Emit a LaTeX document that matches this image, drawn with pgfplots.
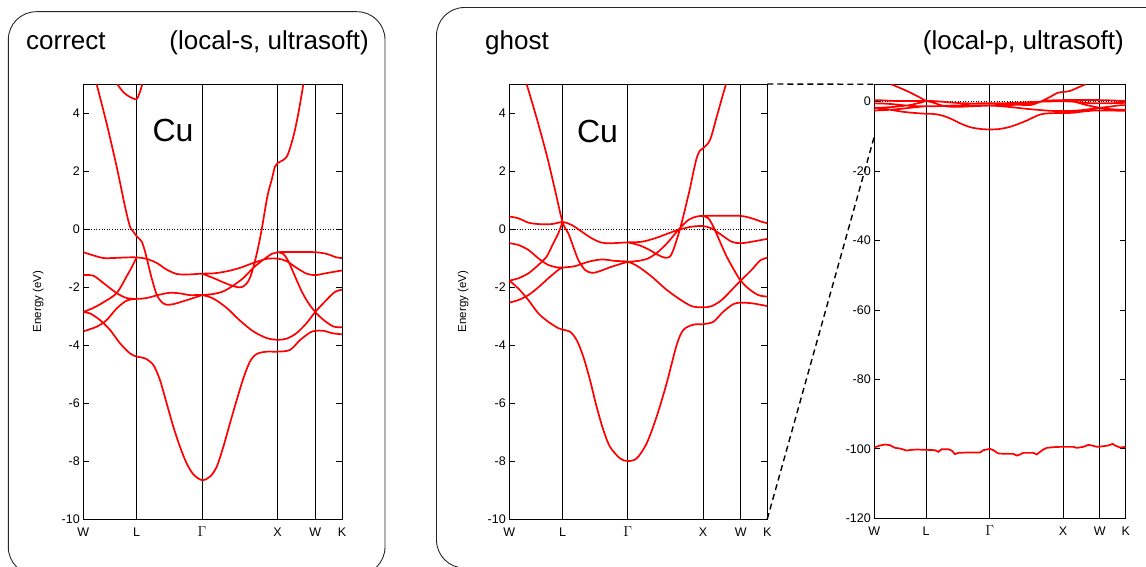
\documentclass[border=0pt]{standalone}
\usepackage{fontspec}
\setmainfont{Liberation Sans}
\usepackage{pgfplots}
\usepackage{pgfplotstable}
\pgfplotsset{compat=1.18}

% correct Cu bands (local-s), one band per block, blocks split by nan
\pgfplotstableread{
k E
0.177 4.99
0.309 3.64
0.442 2.15
0.553 0.77
0.619 0.08
0.663 -0.09
0.707 -0.25
0.773 -0.43
0.817 -0.77
0.861 -1.23
0.905 -1.69
0.972 -2.26
1.038 -2.52
1.104 -2.61
1.193 -2.59
1.325 -2.49
1.458 -2.38
1.573 -2.28
nan nan
0.451 4.99
0.530 4.72
0.600 4.58
0.660 4.50
0.707 4.48
0.740 4.65
0.782 4.99
nan nan
0.000 -0.80
0.133 -0.91
0.265 -1.00
0.398 -1.00
0.575 -0.98
0.707 -0.98
0.839 -1.03
0.972 -1.17
1.104 -1.40
1.237 -1.55
1.369 -1.57
1.573 -1.54
1.723 -1.53
1.899 -1.46
2.076 -1.34
2.252 -1.17
2.429 -1.03
2.573 -1.02
2.694 -1.11
2.826 -1.34
2.959 -1.54
3.073 -1.59
3.224 -1.52
3.427 -1.43
nan nan
0.000 -1.59
0.133 -1.61
0.265 -1.86
0.442 -2.21
0.575 -2.38
0.707 -2.41
0.839 -2.38
1.016 -2.26
1.148 -2.20
1.281 -2.22
1.413 -2.28
1.573 -2.28
1.723 -2.40
1.899 -2.72
2.076 -3.16
2.252 -3.53
2.429 -3.76
2.573 -3.82
2.694 -3.78
2.826 -3.59
2.959 -3.24
3.073 -2.86
3.224 -2.44
3.334 -2.17
3.427 -2.09
nan nan
0.000 -2.86
0.133 -2.72
0.265 -2.53
0.442 -2.21
0.575 -1.63
0.641 -1.32
0.707 -0.98
nan nan
0.000 -2.87
0.089 -2.91
0.221 -3.14
0.354 -3.48
0.486 -3.94
0.619 -4.29
0.707 -4.40
0.817 -4.46
0.928 -4.69
1.016 -5.21
1.104 -6.01
1.193 -6.82
1.281 -7.51
1.369 -8.08
1.458 -8.46
1.573 -8.66
1.678 -8.54
1.767 -8.20
1.855 -7.51
1.943 -6.70
2.032 -5.90
2.120 -5.15
2.208 -4.57
2.297 -4.31
2.429 -4.23
2.573 -4.23
2.738 -4.17
2.871 -3.83
3.003 -3.57
3.073 -3.51
3.180 -3.51
3.312 -3.60
3.427 -3.63
nan nan
0.000 -3.53
0.177 -3.37
0.309 -3.14
0.442 -2.74
0.574 -2.47
0.707 -2.41
nan nan
1.573 -2.28
1.723 -2.24
1.855 -2.15
1.987 -1.95
2.120 -1.69
2.252 -1.34
2.385 -1.06
2.495 -0.86
2.573 -0.80
2.782 -0.79
3.073 -0.80
3.224 -0.86
3.356 -0.98
3.427 -1.00
nan nan
2.573 -0.80
2.650 -0.86
2.716 -1.11
2.804 -1.63
2.893 -2.15
2.981 -2.55
3.073 -2.86
3.180 -3.13
3.312 -3.36
3.427 -3.39
nan nan
1.573 -1.54
1.723 -1.69
1.855 -1.84
1.965 -1.95
2.054 -2.01
2.120 -1.98
2.186 -1.80
2.230 -1.52
2.274 -1.11
2.319 -0.60
2.363 -0.02
2.438 1.12
2.495 1.69
2.539 2.15
2.573 2.27
2.694 2.49
2.782 3.18
2.849 3.99
2.915 4.99
}\bandsok

% ghost Cu bands (local-p)
\pgfplotstableread{
k E
0.231 4.99
0.364 3.82
0.497 2.55
0.607 1.35
0.707 0.24
0.784 -0.15
0.850 -0.61
0.917 -1.07
1.005 -1.41
1.094 -1.51
1.183 -1.47
1.360 -1.30
1.573 -1.13
nan nan
0.000 0.43
0.120 0.37
0.253 0.22
0.386 0.17
0.563 0.17
0.707 0.24
0.828 0.14
0.961 -0.09
1.094 -0.32
1.227 -0.47
1.360 -0.49
1.573 -0.46
1.758 -0.44
1.935 -0.32
2.113 -0.15
2.245 -0.03
2.422 0.08
2.573 0.10
2.688 0.02
2.821 -0.21
2.954 -0.44
3.073 -0.49
3.219 -0.44
3.427 -0.34
nan nan
0.000 -0.49
0.120 -0.55
0.253 -0.72
0.386 -1.01
0.518 -1.24
0.651 -1.33
0.707 -1.33
0.873 -1.28
1.050 -1.13
1.227 -1.05
1.404 -1.10
1.573 -1.13
1.714 -1.30
1.891 -1.64
2.068 -2.05
2.245 -2.39
2.422 -2.66
2.573 -2.70
2.688 -2.66
2.821 -2.45
2.954 -2.10
3.073 -1.78
3.219 -1.41
3.330 -1.09
3.427 -0.99
nan nan
0.000 -1.78
0.120 -1.70
0.253 -1.53
0.386 -1.24
0.496 -0.95
0.585 -0.49
0.651 -0.15
0.707 0.24
nan nan
0.000 -1.78
0.120 -2.05
0.253 -2.45
0.386 -2.91
0.518 -3.20
0.651 -3.42
0.707 -3.47
0.806 -3.54
0.895 -3.83
0.983 -4.40
1.072 -5.21
1.160 -6.13
1.249 -6.93
1.338 -7.51
1.470 -7.91
1.573 -8.00
1.692 -7.91
1.825 -7.39
1.957 -6.47
2.090 -5.32
2.223 -4.00
2.312 -3.48
2.444 -3.30
2.573 -3.28
2.710 -3.20
2.843 -2.85
2.976 -2.59
3.073 -2.54
3.219 -2.56
3.352 -2.62
3.427 -2.66
nan nan
0.000 -2.54
0.120 -2.45
0.253 -2.28
0.386 -2.01
0.518 -1.70
0.651 -1.41
0.707 -1.33
nan nan
1.573 -1.13
1.714 -1.10
1.847 -1.01
1.980 -0.78
2.113 -0.44
2.245 -0.03
2.378 0.31
2.489 0.43
2.573 0.45
2.777 0.46
3.073 0.45
3.219 0.37
3.352 0.25
3.427 0.20
nan nan
2.573 0.45
2.644 0.37
2.710 0.08
2.799 -0.44
2.887 -0.95
2.998 -1.47
3.073 -1.78
3.175 -2.05
3.308 -2.28
3.427 -2.33
nan nan
1.573 -0.46
1.714 -0.55
1.847 -0.70
1.980 -0.90
2.068 -0.99
2.135 -0.95
2.179 -0.72
2.223 -0.38
2.267 0.00
2.312 0.45
2.356 0.92
2.400 1.40
2.444 1.95
2.489 2.45
2.530 2.70
2.573 2.78
2.666 3.07
2.755 3.87
2.843 4.68
2.879 4.99
}\bandsghost

% the ghost state near -100 eV
\pgfplotstableread{
k E
0.000 -99.61
0.078 -99.03
0.146 -98.75
0.214 -98.94
0.282 -99.71
0.350 -99.90
0.441 -100.48
0.510 -100.28
0.578 -100.19
0.714 -100.28
0.828 -100.38
0.873 -100.86
0.918 -100.09
1.009 -100.09
1.055 -100.48
1.100 -101.53
1.146 -101.15
1.259 -101.05
1.441 -101.05
1.486 -100.38
1.577 -100.00
1.623 -100.38
1.691 -101.34
1.805 -101.44
1.895 -101.44
1.941 -101.92
1.986 -101.63
2.032 -101.15
2.168 -101.15
2.214 -101.63
2.259 -100.86
2.304 -100.19
2.350 -99.71
2.441 -99.51
2.532 -99.42
2.713 -99.42
2.759 -99.71
2.850 -99.42
2.918 -98.84
2.986 -99.13
3.031 -99.42
3.122 -99.23
3.190 -99.03
3.249 -98.55
3.281 -99.03
3.350 -99.61
3.427 -99.42
}\ghoststate

\pgfplotsset{
  bandaxis/.style={
    scale only axis,
    xmin=0, xmax=3.427,
    xtick={0,0.707,1.573,2.573,3.073,3.427},
    xticklabels={W,L,{\fontsize{15}{16}\selectfont$\Gamma$},X,W,K},
    xmajorgrids,
    grid style={black, line width=0.7pt},
    major x tick style={draw=none},
    tick align=inside,
    major tick length=6pt,
    yticklabel pos=left,
    axis line style={line width=0.9pt},
    every tick/.style={black, line width=0.8pt},
    tick label style={font=\fontsize{12.5}{14}\selectfont},
    xticklabel style={anchor=north, yshift=-5pt, text height=9pt, text depth=0pt},
    /pgf/number format/assume math mode=true,
    unbounded coords=jump,
    clip=true,
  },
  band/.style={red, line width=1.7pt, smooth},
}

\begin{document}
\begin{tikzpicture}
\useasboundingbox (0pt,0pt) rectangle (1146pt,-567pt);
\clip (0pt,0pt) rectangle (1146pt,-567pt);

% rounded frames
\draw[black!85, line width=0.9pt, rounded corners=28pt] (8.3pt,-11.7pt) rectangle (385pt,-575pt);
\draw[black!85, line width=0.9pt, rounded corners=28pt] (436.5pt,-7.5pt) rectangle (1175pt,-568pt);

\node[anchor=base west, inner sep=0pt, font=\fontsize{26}{30}\selectfont] at (26pt,-50pt) {correct};
\node[anchor=base east, inner sep=0pt, font=\fontsize{26}{30}\selectfont] at (369pt,-50pt) {(local-s, ultrasoft)};
\node[anchor=base west, inner sep=0pt, font=\fontsize{26}{30}\selectfont] at (485pt,-50pt) {ghost};
\node[anchor=base east, inner sep=0pt, font=\fontsize{26}{30}\selectfont] at (1124pt,-50pt) {(local-p, ultrasoft)};

% correct
\begin{axis}[bandaxis, name=p1,
  at={(83.3pt,-519pt)}, anchor=south west,
  width=258.7pt, height=435pt,
  ymin=-10, ymax=5, ytick={-10,-8,...,4},
  ylabel={Energy (eV)},
  ylabel style={font=\fontsize{11.5}{13}\selectfont, at={(axis description cs:-0.175,0.5)}, anchor=center},
]
\addplot[black, dotted, line width=0.6pt, forget plot] coordinates {(0,0) (3.427,0)};
\addplot[band] table[x=k, y=E] {\bandsok};
\end{axis}
\node[font=\fontsize{32}{36}\selectfont] at (173pt,-130pt) {Cu};

% ghost, valence window
\begin{axis}[bandaxis, name=p2,
  at={(509.3pt,-519pt)}, anchor=south west,
  width=258pt, height=435pt,
  ymin=-10, ymax=5, ytick={-10,-8,...,4},
  ylabel={Energy (eV)},
  ylabel style={font=\fontsize{11.5}{13}\selectfont, at={(axis description cs:-0.179,0.5)}, anchor=center},
]
\addplot[black, dotted, line width=0.6pt, forget plot] coordinates {(0,0) (3.427,0)};
\addplot[band] table[x=k, y=E] {\bandsghost};
\end{axis}
\node[font=\fontsize{32}{36}\selectfont] at (597.5pt,-131pt) {Cu};

% ghost, full window
\begin{axis}[bandaxis, name=p3,
  at={(874.3pt,-518.3pt)}, anchor=south west,
  width=251.4pt, height=434pt,
  ymin=-120, ymax=5, ytick={-120,-100,...,0},
]
\addplot[black, dotted, line width=0.6pt, forget plot] coordinates {(0,0) (3.427,0)};
\addplot[band] table[x=k, y=E] {\bandsghost};
\addplot[red, line width=1.7pt] table[x=k, y=E] {\ghoststate};
\coordinate (ztop) at (axis cs:0,5);
\coordinate (zbot) at (axis cs:0,-10);
\end{axis}

\draw[black, line width=1.4pt, dash pattern=on 6pt off 4pt] (p2.north east) -- (ztop);
\draw[black, line width=1.4pt, dash pattern=on 6pt off 4pt] (p2.south east) -- (zbot);
\end{tikzpicture}
\end{document}
